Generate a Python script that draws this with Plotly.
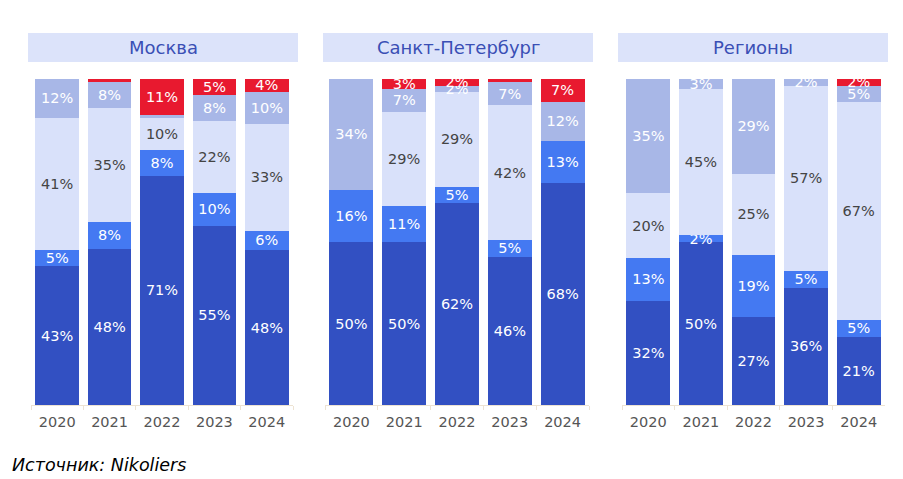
import plotly.graph_objects as go

years = ["2020", "2021", "2022", "2023", "2024"]
regions = ["Москва", "Санкт-Петербург", "Регионы"]

# series values per region (bottom to top)
dark_blue = {
    "Москва": [43, 48, 71, 55, 48],
    "Санкт-Петербург": [50, 50, 62, 46, 68],
    "Регионы": [32, 50, 27, 36, 21],
}
mid_blue = {
    "Москва": [5, 8, 8, 10, 6],
    "Санкт-Петербург": [16, 11, 5, 5, 13],
    "Регионы": [13, 2, 19, 5, 5],
}
pale = {
    "Москва": [41, 35, 10, 22, 33],
    "Санкт-Петербург": [0, 29, 29, 42, 0],
    "Регионы": [20, 45, 25, 57, 67],
}
lavender = {
    "Москва": [12, 8, 1, 8, 10],
    "Санкт-Петербург": [34, 7, 2, 7, 12],
    "Регионы": [35, 3, 29, 2, 5],
}
red = {
    "Москва": [0, 1, 11, 5, 4],
    "Санкт-Петербург": [0, 3, 2, 1, 7],
    "Регионы": [0, 0, 0, 0, 2],
}

series = [
    (dark_blue, "#3250C2", "white"),
    (mid_blue, "#4479F2", "white"),
    (pale, "#D9E1FA", "#444444"),
    (lavender, "#A8B7E7", "white"),
    (red, "#E8192F", "white"),
]

# page has an 8px body margin: size the figure so it fits the window
OFF = 8
W, H = 903 - OFF, 479 - OFF


def px(x):
    return (x - OFF) / W


def py(y):
    return 1 - (y - OFF) / H


fig = go.Figure()
axes = ["x", "x2", "x3"]
for i, reg in enumerate(regions):
    for data, color, tcolor in series:
        vals = data[reg]
        fig.add_trace(go.Bar(
            x=years, y=vals, xaxis=axes[i], yaxis="y",
            marker=dict(color=color, line=dict(width=0)),
            text=[f"{v}%" if v >= 2 else "" for v in vals],
            textposition="inside", insidetextanchor="middle", textangle=0,
            textfont=dict(color=tcolor, size=14.5, family="DejaVu Sans"),
            cliponaxis=False, showlegend=False, hoverinfo="skip",
        ))

doms = [[px(31), px(293)], [px(325), px(589)], [px(622), px(885)]]
xa = dict(type="category", showgrid=False, zeroline=False, showline=True,
          linecolor="#EDE3D3", linewidth=1, ticks="outside", tickson="boundaries",
          ticklen=4, tickcolor="#EDE3D3", ticklabelstandoff=4,
          tickfont=dict(size=14.5, color="#555555", family="DejaVu Sans"), fixedrange=True)
layout = dict(
    width=W, height=H, barmode="stack", barnorm="percent", bargap=0.17,
    margin=dict(l=0, r=0, t=0, b=0),
    paper_bgcolor="white", plot_bgcolor="white",
    uniformtext=dict(minsize=14, mode="show"),
    yaxis=dict(domain=[py(405), py(79)], range=[0, 100], visible=False, fixedrange=True),
    showlegend=False,
)
for i, ax in enumerate(["xaxis", "xaxis2", "xaxis3"]):
    d = dict(xa)
    d["domain"] = doms[i]
    d["anchor"] = "y"
    layout[ax] = d
fig.update_layout(**layout)

boxes = [(28, 298), (323, 593), (618, 888)]
for (x0, x1), reg in zip(boxes, regions):
    fig.add_shape(type="rect", xref="paper", yref="paper",
                  x0=px(x0), x1=px(x1), y0=py(62), y1=py(33),
                  fillcolor="#DCE3FA", line=dict(width=0), layer="below")
    fig.add_annotation(xref="paper", yref="paper", x=px((x0 + x1) / 2), y=py(48),
                       text=reg, showarrow=False, xanchor="center", yanchor="middle",
                       font=dict(size=18, color="#3A4FB5", family="DejaVu Sans"))

fig.add_annotation(xref="paper", yref="paper", x=px(10), y=py(465),
                   text="<i>Источник: Nikoliers</i>", showarrow=False,
                   xanchor="left", yanchor="middle",
                   font=dict(size=17.5, color="black", family="DejaVu Sans"))

fig.write_html("out.html")
